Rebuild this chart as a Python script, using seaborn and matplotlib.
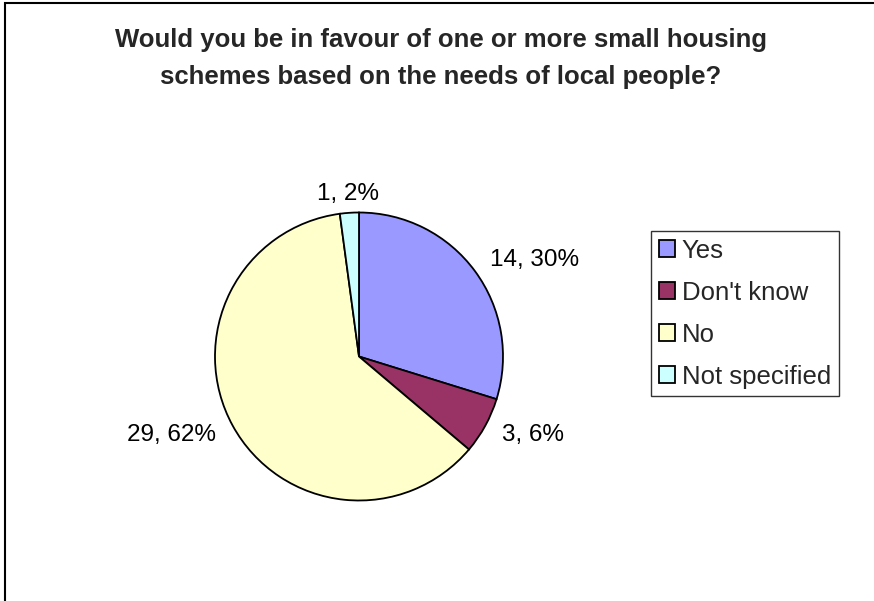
import matplotlib
matplotlib.use("Agg")
import matplotlib.pyplot as plt
import seaborn as sns
from matplotlib.patches import Rectangle

sns.set_theme(style="white")
plt.rcParams['font.family'] = ['Liberation Sans', 'DejaVu Sans']

categories = ["Yes", "Don't know", "No", "Not specified"]
counts = [14, 3, 29, 1]
colors = ["#9999FF", "#993366", "#FFFFCC", "#CCFFFF"]
title = "Would you be in favour of one or more small housing\nschemes based on the needs of local people?"

total = sum(counts)
labels = [f"{c}, {round(100 * c / total)}%" for c in counts]

fig = plt.figure(figsize=(8.74, 6.01), dpi=100)

# outer chart frame (cut off at right/bottom like the source)
fig.patches.append(Rectangle((5 / 874, -0.05), 1.1, 1 - 3 / 601 + 0.05,
                             transform=fig.transFigure, fill=False,
                             edgecolor="black", linewidth=1.5))

ax = fig.add_axes([215 / 874, (601 - 500.5) / 601, 288 / 874, 288 / 601])
wedges, texts = ax.pie(counts, labels=labels, colors=colors, startangle=90,
                       counterclock=False, labeldistance=1.13,
                       wedgeprops=dict(edgecolor="black", linewidth=1.3),
                       textprops=dict(fontsize=17.5, color="black"))
ax.set_xlim(-1, 1)
ax.set_ylim(-1, 1)
ax.set_aspect("equal")
for t in texts:
    t.set_clip_on(False)
texts[-1].set_ha("center")

fig.suptitle(title, x=441 / 874, y=1 - 28 / 601, va="top", fontsize=18.5,
             fontweight="bold", linespacing=1.68)

leg = fig.legend(wedges, categories, loc="upper left",
                 bbox_to_anchor=(651 / 874, 1 - 231 / 601), borderaxespad=0,
                 fontsize=18.5, frameon=True, fancybox=False, edgecolor="black",
                 handlelength=0.62, handleheight=0.62, handletextpad=0.27,
                 labelspacing=0.7, borderpad=0.3)
leg.get_frame().set_linewidth(1.0)

fig.savefig("out.png", dpi=100)
